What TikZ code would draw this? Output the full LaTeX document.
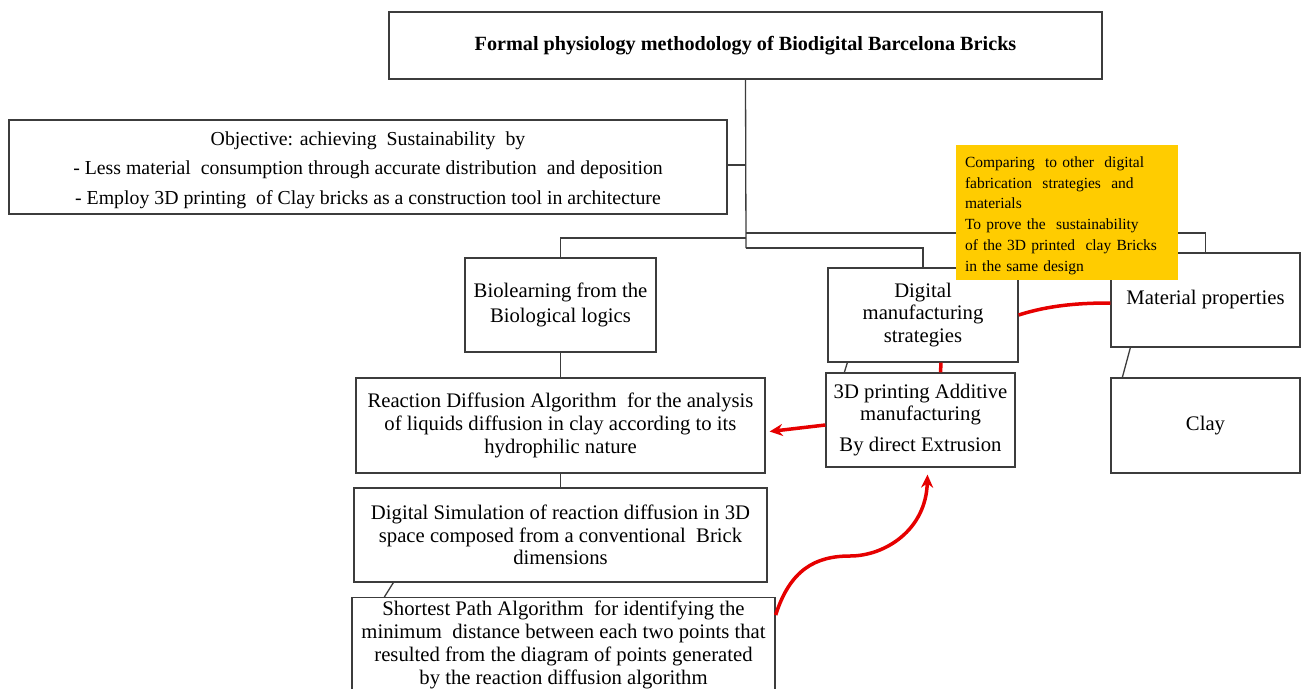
\documentclass[tikz,border=0pt]{standalone}
\usepackage{fontspec}
\setmainfont{Liberation Serif}
\usetikzlibrary{calc,arrows.meta}
\definecolor{boxline}{RGB}{60,60,60}
\definecolor{noteyellow}{RGB}{255,204,0}
\definecolor{arrowred}{RGB}{230,0,0}
\tikzset{
  box/.style={draw=boxline, line width=1.3pt, align=center, inner sep=0pt, fill=white,
    font=\fontsize{20.7}{22.8}\selectfont},
  conn/.style={draw=boxline, line width=1.3pt},
  redline/.style={draw=arrowred, line width=3.5pt},
  redarrow/.style={draw=arrowred, line width=3.5pt, -{Stealth[length=13pt,width=12pt]}},
}
\begin{document}
\begin{tikzpicture}[x=1pt,y=-1pt]
\clip (0,0) rectangle (1303,688);
\fill[white] (0,0) rectangle (1303,688);

\node[box, minimum width=713, minimum height=67, font=\bfseries\fontsize{20.2}{24}\selectfont] (title) at (745.5,45.5)
  {Formal physiology methodology of Biodigital Barcelona Bricks};

\node[box, minimum width=718, minimum height=94, font=\fontsize{19.8}{29.5}\selectfont] (obj) at (368,167)
  {\rule{0pt}{20pt}Objective: achieving\ \ Sustainability\ \ by\\
   - Less material\ \ consumption through accurate distribution\ \ and deposition\\
   - Employ 3D printing\ \ of Clay bricks as a construction tool in architecture};

\node[box, minimum width=191, minimum height=94, font=\fontsize{20.7}{25}\selectfont] (bio) at (560.5,305)
  {Biolearning from the\\ Biological logics};

\node[box, minimum width=190, minimum height=94] (dig) at (923,315)
  {Digital\\ manufacturing\\ strategies};

\node[box, minimum width=189, minimum height=94] (mat) at (1205.5,300)
  {Material properties};

\node[box, minimum width=189, minimum height=95] (clay) at (1205.5,425.5)
  {Clay};

\node[box, minimum width=409, minimum height=95] (rd) at (560.5,425.5)
  {Reaction Diffusion Algorithm\ \ for the analysis\\ of liquids diffusion in clay according to its\\ hydrophilic nature};

\node[box, minimum width=189, minimum height=94] (pr) at (920.5,420)
  {3D printing Additive\\ manufacturing\\[8pt] By direct Extrusion};

\node[box, minimum width=413, minimum height=94] (sim) at (560.5,535)
  {Digital Simulation of reaction diffusion in 3D\\ space composed from a conventional\ \ Brick\\ dimensions};

\node[box, minimum width=423, minimum height=106, anchor=north] (sp) at (563.5,597)
  {\rule{0pt}{0pt}\\[-20pt]Shortest Path Algorithm\ \ for identifying the\\ minimum\ \ distance between each two points that\\ resulted from the diagram of points generated\\ by the reaction diffusion algorithm};

% junction coordinates on the trunk
\coordinate (jm) at (746,233);
\coordinate (jb) at (746,238);
\coordinate (jd) at (746,248);

% tree connectors
\draw[conn] (title.south) -- (jd);
\draw[conn] ($(obj.east)+(0,-2)$) -- ($(obj.east -| jd)+(0,-2)$);
\draw[conn] (jb) -| (bio.north);
\draw[conn] (jm) -| (mat.north);
\draw[conn] (jd) -| (dig.north);
\draw[conn] (bio.south) -- (rd.north);
\draw[conn] (rd.south) -- (sim.north);
\draw[conn] ($(sim.south west)+(40,0)$) -- ($(sp.north west)+(33,0)$);
\draw[conn] ($(dig.south west)+(20,0)$) -- ($(pr.north west)+(19,0)$);
\draw[conn] ($(mat.south west)+(20,0)$) -- ($(clay.north west)+(12,0)$);

% yellow note (drawn over the connectors)
\node[fill=noteyellow, minimum width=222, minimum height=135, inner sep=0pt, text width=204, align=left,
  font=\fontsize{15.5}{20.7}\selectfont] (note) at (1067,212.5)
  {\rule{0pt}{17pt}Comparing\ \ to other\ \ digital\\ fabrication\ \ strategies\ \ and\\ materials\\ To prove the\ \ sustainability\\ of the 3D printed\ \ clay Bricks\\ in the same design};

% red links
\draw[redline] (dig.east) .. controls (1050,305) and (1080,303) .. ($(mat.west)+(0,3)$);
\draw[redline] ($(dig.south)+(18,0)$) -- ($(pr.north)+(20,0)$);
\draw[redarrow] ($(pr.west)+(0,5)$) -- ($(rd.east)+(4,6)$);
\draw[redarrow] ($(sp.north east)+(0,18)$) .. controls (790,570) and (815,556) .. (850,556)
  .. controls (885,556) and (926,530) .. ($(pr.south)+(7,7)$);
\end{tikzpicture}
\end{document}
